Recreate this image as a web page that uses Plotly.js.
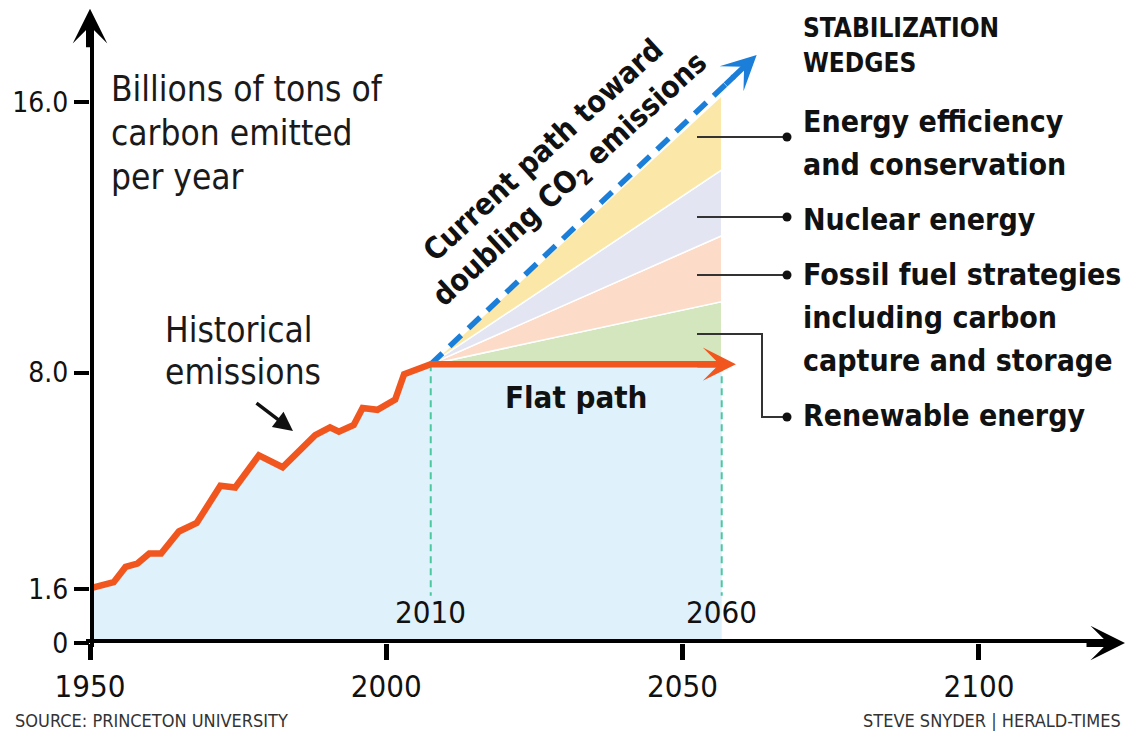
<!DOCTYPE html>
<html>
<head>
<meta charset="utf-8">
<script src="https://cdn.plot.ly/plotly-3.0.1.min.js"></script>
<style>
  html, body { margin: 0; padding: 0; background: #ffffff; }
  #chart { width: 1127px; height: 740px; }
</style>
</head>
<body>
<div id="chart"></div>
<script>
// ---------------- DATA ----------------
const yearsHist = [1950, 1954, 1956, 1958, 1960, 1962, 1965, 1968, 1972, 1974.5, 1978.5, 1982.5, 1988, 1990.5, 1992, 1994.5, 1996, 1998.5, 2001.5, 2003, 2007.5];
const emissHist = [1.62, 1.8, 2.25, 2.35, 2.65, 2.65, 3.3, 3.55, 4.65, 4.6, 5.55, 5.2, 6.15, 6.38, 6.25, 6.45, 6.95, 6.9, 7.2, 7.95, 8.25];

const flatYears = [2007.5, 2059];
const flatValues = [8.25, 8.25];

const currentYears = [2007.5, 2062.5];
const currentValues = [8.25, 17.4];

const wedgeStart = 2007.5;
const wedgeEnd = 2056.6;
const wedgeNames = ["Renewable energy", "Fossil fuel strategies<br>including carbon<br>capture and storage", "Nuclear energy", "Energy efficiency<br>and conservation"];
const wedgeTops = [10.1, 12.05, 14.0, 16.2];
const wedgeColors = ["#d3e6bd", "#fcdcc8", "#e3e5f2", "#fbe8a8"];

const markerYears = [2007.5, 2056.6];
const markerLabels = ["2010", "2060"];

const xTickVals = [1950, 2000, 2050, 2100];
const xTickText = ["1950", "2000", "2050", "2100"];
const yTickVals = [0, 1.6, 8.0, 16.0];
const yTickText = ["0", "1.6", "8.0", "16.0"];

// ---------------- LAYOUT HELPERS ----------------
const L = 90, T = 12, R = 2, B = 97;
const W = 1127 - L - R, H = 740 - T - B;
const PX_PER_YEAR = 5.926, PX_PER_UNIT = 33.8;
const xMax = 1950 + W / PX_PER_YEAR;
const yMax = H / PX_PER_UNIT;
const px = x => (x - L) / W;       // pixel -> paper x
const py = y => (740 - B - y) / H; // pixel -> paper y

const FONT = "DejaVu Sans Condensed, DejaVu Sans, Liberation Sans Narrow, sans-serif";
const NARROW = "Liberation Sans Narrow, DejaVu Sans Condensed, sans-serif";
const ORANGE = "#f1561f", BLUE = "#1b7fd9", MINT = "#4cc8a0", FILLBLUE = "#dff1fb";

// ---------------- TRACES ----------------
const traces = [];

// light blue area under historical + flat path
traces.push({
  x: yearsHist.concat([wedgeEnd]),
  y: emissHist.concat([flatValues[1]]),
  type: "scatter", mode: "lines", fill: "tozeroy",
  fillcolor: FILLBLUE, line: { width: 0, color: FILLBLUE },
  hoverinfo: "skip", showlegend: false
});

// stabilization wedges
for (let i = 0; i < wedgeTops.length; i++) {
  const lower = i === 0 ? flatValues[0] : wedgeTops[i - 1];
  traces.push({
    x: [wedgeStart, wedgeEnd, wedgeEnd, wedgeStart],
    y: [flatValues[0], lower, wedgeTops[i], flatValues[0]],
    type: "scatter", mode: "lines", fill: "toself",
    fillcolor: wedgeColors[i], line: { color: "#ffffff", width: 1.5 },
    name: wedgeNames[i].replace(/<br>/g, " "), hoverinfo: "skip", showlegend: false
  });
}

// vertical dashed markers (2010 / 2060)
markerYears.forEach(yr => {
  traces.push({
    x: [yr, yr], y: [flatValues[0], 1.4],
    type: "scatter", mode: "lines",
    line: { color: MINT, width: 2, dash: "7px,5px" },
    hoverinfo: "skip", showlegend: false
  });
});

// current path (dashed blue), stopped short so the head covers the tip
const cFrac = 0.93;
traces.push({
  x: [currentYears[0], currentYears[0] + (currentYears[1] - currentYears[0]) * cFrac],
  y: [currentValues[0], currentValues[0] + (currentValues[1] - currentValues[0]) * cFrac],
  type: "scatter", mode: "lines",
  line: { color: BLUE, width: 5.5, dash: "16px,10px" },
  hoverinfo: "skip", showlegend: false
});

// historical emissions + flat path (orange)
traces.push({
  x: yearsHist.concat([flatYears[1] - 3]),
  y: emissHist.concat([flatValues[1]]),
  type: "scatter", mode: "lines",
  line: { color: ORANGE, width: 6.5, shape: "linear" },
  hoverinfo: "skip", showlegend: false
});

// ---------------- SHAPES ----------------
const shapes = [
  // x axis line
  { type: "line", xref: "paper", yref: "y", x0: px(86), x1: 0.985, y0: 0, y1: 0, line: { color: "#000", width: 8 } },
  // y axis line
  { type: "line", xref: "x", yref: "paper", x0: 1950, x1: 1950, y0: py(647), y1: 0.975, line: { color: "#000", width: 8 } }
];

// legend leader lines and dots
const leaderY = [417, 275, 217, 137];
const LEAD_X0 = 697, LEAD_X1 = 787;
leaderY.forEach((ly, i) => {
  if (i === 0) {
    shapes.push({
      type: "path", xref: "paper", yref: "paper",
      path: `M${px(LEAD_X0)},${py(334)} L${px(762)},${py(334)} L${px(762)},${py(ly)} L${px(LEAD_X1)},${py(ly)}`,
      line: { color: "#333", width: 2 }
    });
  } else {
    shapes.push({ type: "line", xref: "paper", yref: "paper", x0: px(LEAD_X0), x1: px(LEAD_X1), y0: py(ly), y1: py(ly), line: { color: "#333", width: 2 } });
  }
  shapes.push({ type: "circle", xref: "paper", yref: "paper",
    x0: px(LEAD_X1 - 4.5), x1: px(LEAD_X1 + 4.5), y0: py(ly + 4.5), y1: py(ly - 4.5),
    fillcolor: "#111", line: { width: 0 } });
});

// ---------------- ANNOTATIONS ----------------
const ann = [];

// axis arrow heads
ann.push({ xref: "paper", yref: "y", x: 1, y: 0, ax: -40, ay: 0, text: "", showarrow: true,
  arrowhead: 3, arrowsize: 0.72, arrowwidth: 8, arrowcolor: "#000" });
ann.push({ xref: "x", yref: "paper", x: 1950, y: 1.005, ax: 0, ay: 40, text: "", showarrow: true,
  arrowhead: 3, arrowsize: 0.72, arrowwidth: 8, arrowcolor: "#000" });

// flat path head
ann.push({ xref: "x", yref: "y", x: flatYears[1], y: flatValues[1], ax: -40, ay: 0, text: "", showarrow: true,
  arrowhead: 3, arrowsize: 0.85, arrowwidth: 6.5, arrowcolor: ORANGE });
// current path head
(function () {
  const dx = (currentYears[1] - currentYears[0]) * PX_PER_YEAR;
  const dy = (currentValues[1] - currentValues[0]) * PX_PER_UNIT;
  const len = Math.hypot(dx, dy);
  ann.push({ xref: "x", yref: "y", x: currentYears[1], y: currentValues[1],
    ax: -dx / len * 45, ay: dy / len * 45, text: "", showarrow: true,
    arrowhead: 3, arrowsize: 1.05, arrowwidth: 5.5, arrowcolor: BLUE });
})();

// unit label
["Billions of tons of", "carbon emitted", "per year"].forEach((t, j) => {
  ann.push({ xref: "paper", yref: "paper", x: px(109), y: py(89 + j * 44), xanchor: "left", yanchor: "middle",
    text: t, showarrow: false, font: { family: FONT, size: 35, color: "#1a1a1a" } });
});

// historical emissions label + pointer
["Historical", "emissions"].forEach((t, j) => {
  ann.push({ xref: "paper", yref: "paper", x: px(163), y: py(330 + j * 42), xanchor: "left", yanchor: "middle",
    text: t, showarrow: false, font: { family: FONT, size: 35, color: "#1a1a1a" } });
});
ann.push({ xref: "paper", yref: "paper", x: px(293), y: py(431), ax: -38, ay: -29, text: "", showarrow: true,
  arrowhead: 2, arrowsize: 1.1, arrowwidth: 3.5, arrowcolor: "#111" });

// flat path label
ann.push({ xref: "paper", yref: "paper", x: px(576), y: py(397), xanchor: "center", yanchor: "middle",
  text: "<b>Flat path</b>", showarrow: false, font: { family: FONT, size: 31, color: "#111" } });

// rotated current path label
ann.push({ xref: "paper", yref: "paper", x: px(557), y: py(166), xanchor: "center", yanchor: "middle",
  text: "<b>Current path toward<br>doubling CO<sub>2</sub> emissions</b>", textangle: -42.5, showarrow: false,
  font: { family: FONT, size: 30, color: "#111" } });

// heading
["STABILIZATION", "WEDGES"].forEach((t, j) => {
  ann.push({ xref: "paper", yref: "paper", x: px(801), y: py(28 + j * 35), xanchor: "left", yanchor: "middle",
    text: "<b>" + t + "</b>", showarrow: false, font: { family: NARROW, size: 26, color: "#111" } });
});

// wedge legend labels
const labelCenter = [415, 317, 219, 143];
wedgeNames.forEach((name, i) => {
  const lines = name.split("<br>");
  lines.forEach((t, j) => {
    ann.push({ xref: "paper", yref: "paper", x: px(801), y: py(labelCenter[i] + (j - (lines.length - 1) / 2) * 43),
      xanchor: "left", yanchor: "middle", text: "<b>" + t + "</b>", showarrow: false,
      font: { family: FONT, size: 30, color: "#111" } });
  });
});

// 2010 / 2060 labels
markerYears.forEach((yr, i) => {
  ann.push({ xref: "x", yref: "paper", x: yr, y: py(612), xanchor: "center", yanchor: "middle",
    text: markerLabels[i], showarrow: false, font: { family: FONT, size: 31, color: "#111" } });
});

// footer
ann.push({ xref: "paper", yref: "paper", x: px(13), y: py(720), xanchor: "left", yanchor: "middle",
  text: "SOURCE: PRINCETON UNIVERSITY", showarrow: false, font: { family: NARROW, size: 18, color: "#333" } });
ann.push({ xref: "paper", yref: "paper", x: px(1123), y: py(720), xanchor: "right", yanchor: "middle",
  text: "STEVE SNYDER | HERALD-TIMES", showarrow: false, font: { family: NARROW, size: 18, color: "#333" } });

const layout = {
  width: 1127, height: 740,
  margin: { l: L, r: R, t: T, b: B, pad: 0 },
  paper_bgcolor: "#ffffff", plot_bgcolor: "#ffffff",
  showlegend: false,
  font: { family: FONT, color: "#111" },
  xaxis: {
    range: [1950, xMax], showgrid: false, zeroline: false, showline: false,
    tickmode: "array", tickvals: xTickVals, ticktext: xTickText,
    ticks: "outside", ticklen: 16, tickwidth: 5, tickcolor: "#000",
    tickfont: { family: FONT, size: 31, color: "#111" }, fixedrange: true
  },
  yaxis: {
    range: [0, yMax], showgrid: false, zeroline: false, showline: false,
    tickmode: "array", tickvals: yTickVals, ticktext: yTickText,
    ticks: "outside", ticklen: 15, tickwidth: 4, tickcolor: "#000",
    tickfont: { family: FONT, size: 28, color: "#111" }, fixedrange: true
  },
  shapes: shapes,
  annotations: ann
};

Plotly.newPlot("chart", traces, layout, { displayModeBar: false, staticPlot: true });
</script>
</body>
</html>
